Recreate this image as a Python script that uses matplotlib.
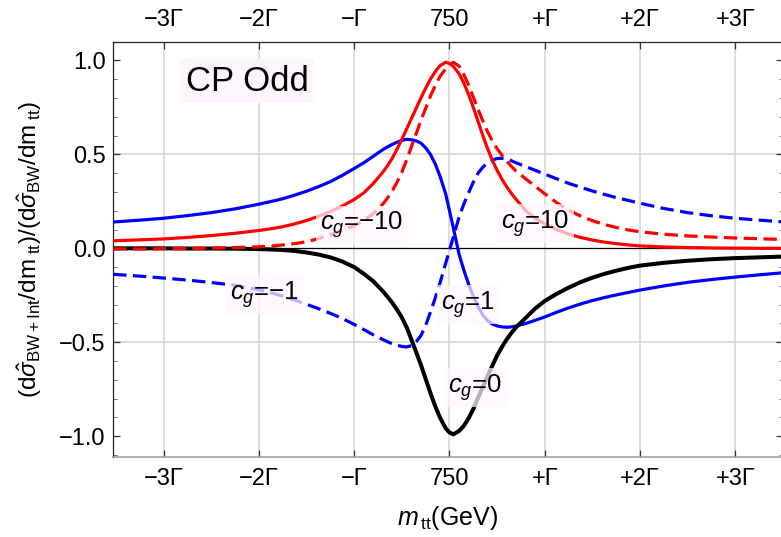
import matplotlib
matplotlib.use("Agg")
import matplotlib.pyplot as plt

plt.rcParams['font.family'] = ['Liberation Sans', 'DejaVu Sans']
plt.rcParams['mathtext.fontset'] = 'custom'
plt.rcParams['mathtext.rm'] = 'Liberation Sans'
plt.rcParams['mathtext.it'] = 'Liberation Sans:italic'
plt.rcParams['mathtext.bf'] = 'Liberation Sans:bold'
plt.rcParams['axes.unicode_minus'] = True

# m_tt measured from 750 GeV, in units of the width Gamma
m_offset = [-3.53, -3.25, -3.0, -2.75, -2.5, -2.25, -2.0, -1.875, -1.75, -1.625,
            -1.5, -1.375, -1.25, -1.125, -1.0,
            -0.9, -0.8, -0.7, -0.65, -0.6, -0.55, -0.5, -0.45, -0.4, -0.35,
            -0.3, -0.25, -0.2, -0.15, -0.1, -0.04, 0.0, 0.04, 0.1, 0.15, 0.2,
            0.25, 0.3, 0.35, 0.4, 0.45, 0.5, 0.55, 0.6, 0.65, 0.7, 0.8, 0.9,
            1.0, 1.125, 1.25, 1.375, 1.5, 1.625, 1.75, 1.875, 2.0, 2.25, 2.5,
            2.75, 3.0, 3.25, 3.5]

ratio_cg_p10 = [0.040, 0.045, 0.050, 0.058, 0.068, 0.080, 0.095, 0.104, 0.115,
                0.130, 0.148, 0.170, 0.195, 0.225, 0.260,
                0.295, 0.345, 0.405, 0.440, 0.480, 0.528, 0.580, 0.635, 0.690,
                0.745, 0.800, 0.852, 0.900, 0.940, 0.972, 0.990, 0.984, 0.968,
                0.930, 0.880, 0.820, 0.750, 0.675, 0.600, 0.530, 0.468, 0.415,
                0.368, 0.328, 0.292, 0.260, 0.200, 0.160,
                0.130, 0.100, 0.076, 0.058, 0.044, 0.033, 0.025, 0.018, 0.013,
                0.007, 0.004, 0.002, 0.001, 0.000, 0.000]

ratio_cg_m10 = [-0.003, -0.003, -0.002, -0.001, 0.001, 0.004, 0.008, 0.012, 0.018,
                0.025, 0.035, 0.052, 0.072, 0.095, 0.120,
                0.148, 0.185, 0.235, 0.268, 0.305, 0.352, 0.405, 0.470, 0.540,
                0.610, 0.680, 0.745, 0.810, 0.865, 0.915, 0.955, 0.976, 0.990,
                0.970, 0.925, 0.870, 0.805, 0.740, 0.678, 0.620, 0.572, 0.530,
                0.496, 0.465, 0.436, 0.410, 0.370, 0.330,
                0.290, 0.243, 0.203, 0.172, 0.147, 0.127, 0.111, 0.098, 0.088,
                0.075, 0.066, 0.060, 0.055, 0.051, 0.047]

ratio_cg_p1 = [0.140, 0.150, 0.160, 0.174, 0.190, 0.210, 0.235, 0.249, 0.264,
               0.283, 0.304, 0.328, 0.355, 0.388, 0.425,
               0.455, 0.490, 0.525, 0.540, 0.553, 0.565, 0.574, 0.580, 0.578,
               0.572, 0.560, 0.535, 0.500, 0.450, 0.385, 0.290, 0.200, 0.110,
               -0.030, -0.115, -0.190, -0.255, -0.310, -0.355, -0.385, -0.403,
               -0.413, -0.418, -0.420, -0.418, -0.413, -0.400, -0.383,
               -0.365, -0.340, -0.317, -0.296, -0.278, -0.262, -0.248, -0.235,
               -0.222, -0.200, -0.181, -0.166, -0.153, -0.141, -0.130]

ratio_cg_m1 = [-0.138, -0.148, -0.158, -0.169, -0.182, -0.197, -0.220, -0.236,
               -0.254, -0.275, -0.298, -0.321, -0.346, -0.373, -0.405,
               -0.432, -0.460, -0.485, -0.497, -0.508, -0.516, -0.522, -0.525,
               -0.518, -0.497, -0.465, -0.410, -0.340, -0.265, -0.185, -0.080,
               -0.010, 0.060, 0.165, 0.235, 0.295, 0.352, 0.400, 0.432, 0.455,
               0.470, 0.478, 0.479, 0.475, 0.466, 0.455, 0.435, 0.415,
               0.395, 0.370, 0.346, 0.325, 0.305, 0.287, 0.270, 0.255, 0.240,
               0.212, 0.190, 0.173, 0.160, 0.150, 0.141]

ratio_cg_0 = [0.0, 0.0, 0.0, -0.001, -0.001, -0.002, -0.004, -0.006, -0.009,
              -0.014, -0.022, -0.033, -0.048, -0.070, -0.100,
              -0.135, -0.175, -0.228, -0.258, -0.290, -0.327, -0.368, -0.420,
              -0.485, -0.552, -0.620, -0.695, -0.770, -0.840, -0.900, -0.958,
              -0.980, -0.990, -0.972, -0.945, -0.905, -0.855, -0.795, -0.738,
              -0.680, -0.624, -0.570, -0.525, -0.485, -0.450, -0.420, -0.370,
              -0.320,
              -0.280, -0.242, -0.209, -0.180, -0.156, -0.136, -0.119, -0.104,
              -0.092, -0.077, -0.066, -0.058, -0.052, -0.048, -0.044]

x_ticks = [-3, -2, -1, 0, 1, 2, 3]
x_tick_labels = ['\u22123\u0393', '\u22122\u0393', '\u2212\u0393', '750',
                 '+\u0393', '+2\u0393', '+3\u0393']
y_ticks = [-1.0, -0.5, 0.0, 0.5, 1.0]
y_tick_labels = ['\u22121.0', '\u22120.5', '0.0', '0.5', '1.0']

fig = plt.figure(figsize=(7.81, 5.37), dpi=100)
ax = fig.add_axes([0.1443, 0.1495, 0.8583, 0.7728])

ax.set_xlim(-3.534, 3.5)
ax.set_ylim(-1.109, 1.0995)

grid_col = '#d4d4d4'
for xt in x_ticks:
    ax.axvline(xt, color=grid_col, lw=1.1, zorder=0)
for yt in (-0.5, 0.5):
    ax.axhline(yt, color=grid_col, lw=1.1, zorder=0)
ax.axhline(0.0, color='black', lw=0.9, zorder=1)

lw = 2.3
dash = (4.2, 2.0)
ax.plot(m_offset, ratio_cg_p1, color='#0000ff', lw=lw, zorder=3)
ax.plot(m_offset, ratio_cg_m1, color='#0000ff', lw=lw, dashes=dash, zorder=3)
ax.plot(m_offset, ratio_cg_0, color='black', lw=2.9, zorder=4)
ax.plot(m_offset, ratio_cg_p10, color='#ff0000', lw=lw, zorder=5)
ax.plot(m_offset, ratio_cg_m10, color='#ff0000', lw=lw, dashes=dash, zorder=5)

box = dict(boxstyle='square,pad=0.16', fc=(1.0, 0.965, 1.0), ec='none', alpha=0.72)
lab_fs = 18.5
labels = [(-0.92, 0.124, '$c_g$=\u221210'),
          (0.90, 0.13, '$c_g$=10'),
          (-1.94, -0.248, '$c_g$=\u22121'),
          (0.19, -0.30, '$c_g$=1'),
          (0.27, -0.743, '$c_g$=0')]
for lx, ly, s in labels:
    ax.text(lx, ly, s, fontsize=lab_fs, ha='center', va='center', bbox=box, zorder=10)

ax.text(-2.125, 0.89, 'CP Odd', fontsize=25, ha='center', va='center',
        bbox=dict(boxstyle='square,pad=0.15', fc=(0.99, 0.965, 0.99), ec='none'),
        zorder=10)

ax.set_xticks(x_ticks)
ax.set_xticklabels(x_tick_labels)
ax.set_yticks(y_ticks)
ax.set_yticklabels(y_tick_labels)
ax.set_yticks([v / 10 for v in range(-11, 11)], minor=True)

ax.tick_params(axis='x', which='major', direction='in', length=5, width=0.9,
               top=True, labeltop=True, bottom=True, labelbottom=True,
               labelsize=17, pad=8, color='#333333')
ax.tick_params(axis='x', which='minor', bottom=False, top=False)
ax.tick_params(axis='y', which='major', direction='in', length=5, width=0.9,
               left=True, right=True, labelsize=17, pad=5, color='#333333')
ax.tick_params(axis='y', which='minor', direction='in', length=3, width=0.7,
               left=True, right=True, color='#777777')

for side in ('left', 'top'):
    ax.spines[side].set_color('#222222')
    ax.spines[side].set_linewidth(0.9)
ax.spines['bottom'].set_color('#9a9a9a')
ax.spines['bottom'].set_linewidth(1.1)
ax.spines['right'].set_color('#222222')

ax.set_xlabel('$m_{\\,\\mathrm{tt}}$(GeV)', fontsize=18, labelpad=10)
ax.set_ylabel('$(\\mathrm{d}\\hat{\\sigma}_{\\mathrm{BW+Int}}/\\mathrm{dm}_{\\ \\mathrm{tt}})'
              '/(\\mathrm{d}\\hat{\\sigma}_{\\mathrm{BW}}/\\mathrm{dm}_{\\ \\mathrm{tt}})$',
              fontsize=17.5, labelpad=11)

fig.savefig('out.png', dpi=100)
